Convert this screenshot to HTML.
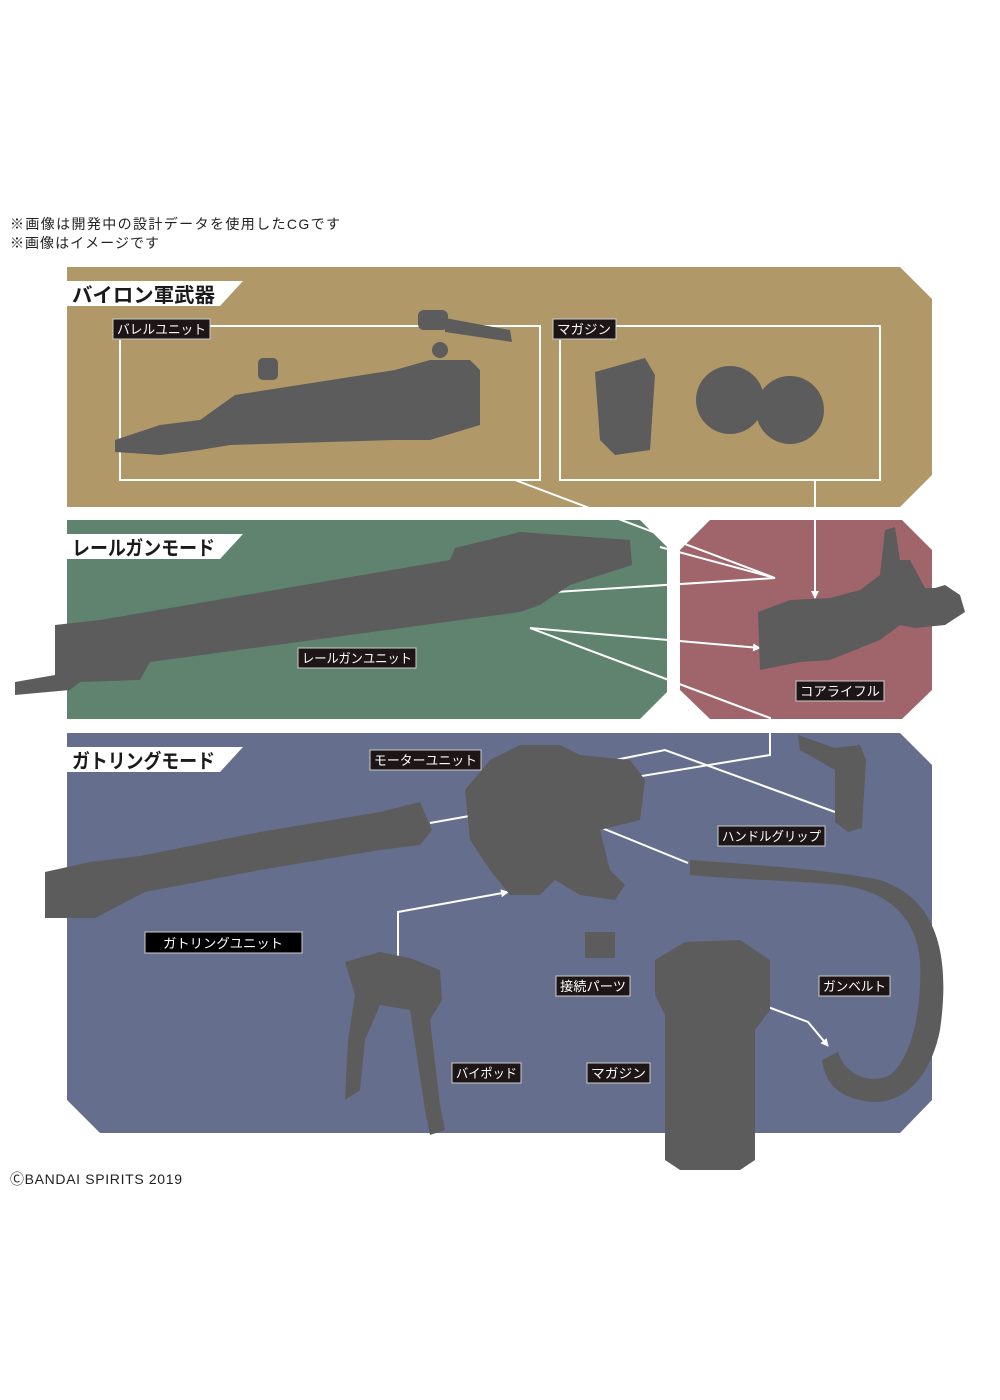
<!DOCTYPE html>
<html><head><meta charset="utf-8"><style>
html,body{margin:0;padding:0;background:#fff;}
svg{display:block}
text{font-family:"Liberation Sans","Noto Sans CJK JP",sans-serif;}
</style></head><body>
<svg width="1000" height="1400" viewBox="0 0 1000 1400" xmlns="http://www.w3.org/2000/svg">
<defs>
<marker id="ar" markerWidth="8" markerHeight="8" refX="7" refY="4" orient="auto" markerUnits="userSpaceOnUse"><path d="M0,0 L8,4 L0,8 z" fill="#fff"/></marker>
</defs>
<text x="10" y="229" font-size="14" fill="#222" textLength="330">※画像は開発中の設計データを使用したCGです</text>
<text x="10" y="248" font-size="14" fill="#222" textLength="149">※画像はイメージです</text>

<!-- panels -->
<polygon points="67,267 900,267 932,299 932,475 900,507 67,507" fill="#b09868"/>
<polygon points="67,520 640,520 667,547 667,692 640,719 67,719" fill="#5f836f"/>
<polygon points="710,520 902,520 932,550 932,690 902,719 710,719 680,690 680,550" fill="#a0656b"/>
<polygon points="67,733 900,733 932,765 932,1100 900,1133 100,1133 67,1100" fill="#666e8d"/>

<!-- section headers -->
<polygon points="67,281 243,281 220,306 67,306" fill="#fff"/>
<text x="72" y="302" font-size="20" font-weight="bold" fill="#1a1a1a" textLength="143" lengthAdjust="spacingAndGlyphs">バイロン軍武器</text>
<polygon points="67,534 243,534 220,559 67,559" fill="#fff"/>
<text x="72" y="555" font-size="20" font-weight="bold" fill="#1a1a1a" textLength="143" lengthAdjust="spacingAndGlyphs">レールガンモード</text>
<polygon points="67,747 243,747 220,772 67,772" fill="#fff"/>
<text x="72" y="768" font-size="20" font-weight="bold" fill="#1a1a1a" textLength="143" lengthAdjust="spacingAndGlyphs">ガトリングモード</text>

<!-- frames -->
<g fill="none" stroke="#fff" stroke-width="2">
<polyline points="210,326 540,326 540,480 120,480 120,340"/>
<polyline points="616,326 880,326 880,480 560,480 560,340"/>
<polyline points="515,480 775,578 660,547"/>
<polyline points="540,593 775,578"/>
<polyline points="530,628 760,648" marker-end="url(#ar)"/>
<polyline points="530,628 770,718 770,755 605,782" marker-end="url(#ar)"/>
<polyline points="815,480 815,598" marker-end="url(#ar)"/>
<polyline points="550,773 665,750 835,812"/>
<polyline points="550,773 535,768" marker-end="url(#ar)"/>
<polyline points="430,823 475,815" marker-end="url(#ar)"/>
<polyline points="688,863 597,826 578,806" marker-end="url(#ar)"/>
<polyline points="398,962 398,912 508,892" marker-end="url(#ar)"/>
<polyline points="752,1001 808,1022 828,1046" marker-end="url(#ar)"/>
</g>

<!-- parts -->
<g fill="#5c5c5c">
<polygon points="115,440 160,425 200,420 235,395 395,370 430,360 470,360 480,370 480,425 430,440 395,440 230,445 200,450 160,455 115,452"/>
<circle cx="440" cy="350" r="8"/>
<rect x="418" y="310" width="30" height="20" rx="6"/>
<polygon points="445,318 510,330 512,342 445,332"/>
<rect x="258" y="358" width="20" height="22" rx="5"/>
<polygon points="595,372 645,358 655,375 650,450 615,455 600,440"/>
<circle cx="730" cy="400" r="34"/>
<circle cx="790" cy="410" r="34"/>
<polygon points="55,625 100,620 450,560 455,548 520,532 630,540 632,565 570,585 540,605 520,612 150,662 140,680 80,682 70,690 15,695 15,682 55,675"/>
<polygon points="758,612 790,600 830,598 860,590 880,575 885,530 895,527 900,560 910,560 925,588 935,588 945,585 960,595 965,612 945,625 915,628 900,625 880,640 830,660 800,662 760,670"/>
<polygon points="465,790 490,760 520,745 560,745 580,755 630,760 645,780 640,820 600,830 610,870 625,885 615,900 580,895 555,880 540,895 510,895 490,870 470,840"/>
<polygon points="45,872 90,862 140,856 260,832 380,812 420,802 432,830 420,845 380,850 260,870 145,892 95,918 45,918"/>
<polygon points="798,735 835,748 860,745 866,760 862,828 848,832 835,822 835,770 800,750"/>
<path d="M690,860 C760,865 830,870 880,880 C940,900 950,960 940,1030 C930,1080 900,1110 860,1100 C835,1095 825,1080 822,1060 L838,1052 C845,1075 870,1085 890,1075 C915,1055 922,1000 920,960 C915,910 880,890 840,885 C790,880 740,880 690,875 z"/>
<rect x="585" y="932" width="30" height="26"/>
<polygon points="345,962 380,952 410,958 440,970 442,1000 430,1020 440,1105 445,1130 430,1135 425,1110 410,1010 380,1005 365,1040 360,1090 345,1100 348,1040 355,995"/>
<polygon points="655,960 685,942 740,940 770,960 770,1010 755,1030 755,1160 740,1170 680,1170 665,1160 665,1015 655,995"/>
</g>

<!-- labels -->
<g font-size="13" fill="#fff">
<rect x="113" y="319" width="97" height="20" fill="#1e1616" stroke="#ccc"/><text x="117" y="334" textLength="89" lengthAdjust="spacingAndGlyphs">バレルユニット</text>
<rect x="553" y="319" width="63" height="20" fill="#1e1616" stroke="#ccc"/><text x="557" y="334" textLength="54" lengthAdjust="spacingAndGlyphs">マガジン</text>
<rect x="298" y="648" width="118" height="20" fill="#1e1616" stroke="#ccc"/><text x="302" y="663" textLength="110" lengthAdjust="spacingAndGlyphs">レールガンユニット</text>
<rect x="796" y="681" width="88" height="20" fill="#1e1616" stroke="#ccc"/><text x="800" y="696" textLength="80" lengthAdjust="spacingAndGlyphs">コアライフル</text>
<rect x="370" y="750" width="111" height="20" fill="#1e1616" stroke="#ccc"/><text x="374" y="765" textLength="103" lengthAdjust="spacingAndGlyphs">モーターユニット</text>
<rect x="718" y="826" width="107" height="20" fill="#1e1616" stroke="#ccc"/><text x="722" y="841" textLength="99" lengthAdjust="spacingAndGlyphs">ハンドルグリップ</text>
<rect x="145" y="932" width="157" height="21" fill="#000" stroke="#ccc"/><text x="163" y="948" textLength="120" lengthAdjust="spacingAndGlyphs">ガトリングユニット</text>
<rect x="556" y="976" width="74" height="20" fill="#1e1616" stroke="#ccc"/><text x="560" y="991" textLength="66" lengthAdjust="spacingAndGlyphs">接続パーツ</text>
<rect x="819" y="976" width="71" height="20" fill="#1e1616" stroke="#ccc"/><text x="823" y="991" textLength="63" lengthAdjust="spacingAndGlyphs">ガンベルト</text>
<rect x="452" y="1063" width="69" height="20" fill="#1e1616" stroke="#ccc"/><text x="456" y="1078" textLength="61" lengthAdjust="spacingAndGlyphs">バイポッド</text>
<rect x="587" y="1063" width="63" height="20" fill="#1e1616" stroke="#ccc"/><text x="591" y="1078" textLength="55" lengthAdjust="spacingAndGlyphs">マガジン</text>
</g>
<text x="10" y="1184" font-size="14" fill="#222" textLength="172">ⒸBANDAI SPIRITS 2019</text>
</svg>
</body></html>
